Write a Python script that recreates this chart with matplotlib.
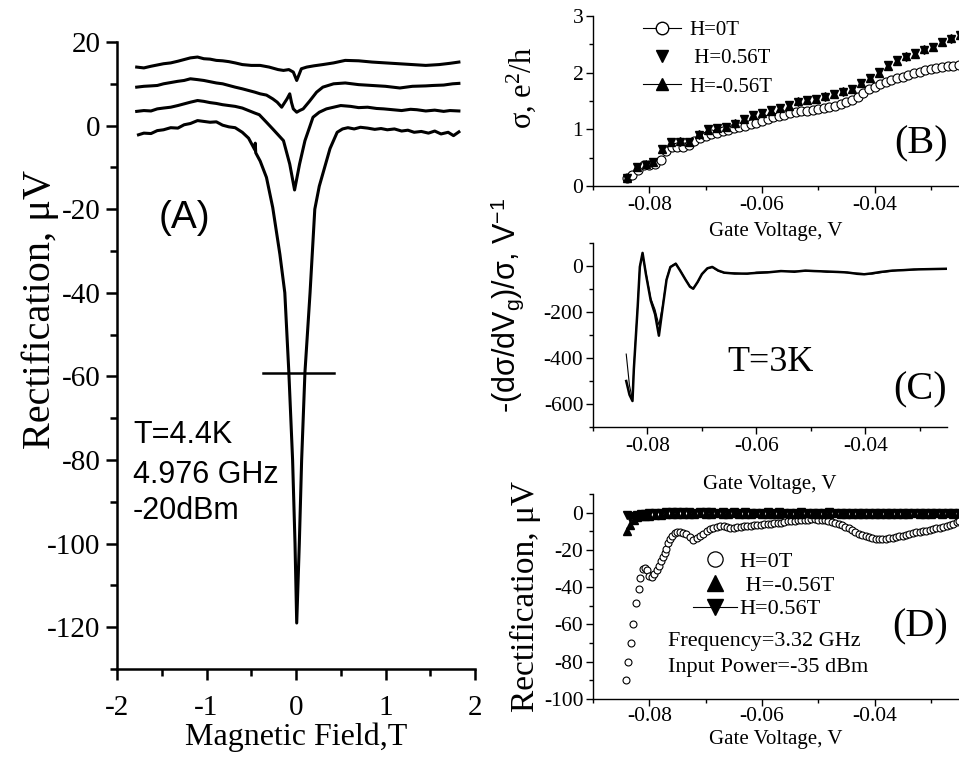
import matplotlib
matplotlib.use('Agg')
import matplotlib.pyplot as plt
from matplotlib.lines import Line2D
from matplotlib.ticker import MultipleLocator

# ---------------- data: panel A (rectification vs magnetic field) ----------------
a1_x = [-1.76, -1.70, -1.62, -1.55, -1.48, -1.40, -1.32, -1.25, -1.18, -1.10, -1.03, -0.96,
        -0.89, -0.82, -0.75, -0.68, -0.60, -0.53, -0.46, -0.455, -0.45, -0.40, -0.33, -0.26,
        -0.18, -0.125, -0.08, -0.038, -0.011, 0.008, 0.037, 0.063, 0.10, 0.157, 0.21, 0.26,
        0.32, 0.38, 0.46, 0.52, 0.58, 0.65, 0.72, 0.80, 0.88, 0.95, 1.02, 1.10, 1.18, 1.25,
        1.32, 1.40, 1.48, 1.55, 1.62, 1.70, 1.76, 1.82]
a1_y = [-2.2, -1.8, -1.9, -1.2, -1.0, -0.5, -0.6, 0.2, 0.5, 1.2, 1.0, 0.8,
        0.9, 0.1, -0.3, -0.5, -1.6, -3.0, -5.8, -4.2, -6.5, -8.5, -12.4, -19.6,
        -30.8, -40.0, -59.0, -80.0, -100.0, -119.0, -100.0, -80.0, -59.0, -40.0, -20.0, -14.5,
        -10.0, -5.5, -1.6, -0.8, -0.5, -0.8, -0.4, -0.6, -0.9, -0.7, -1.0, -0.8, -1.3, -1.1,
        -1.6, -1.4, -1.8, -1.3, -2.0, -1.6, -2.4, -1.5]

a2_x = [-1.78, -1.70, -1.62, -1.55, -1.48, -1.40, -1.32, -1.25, -1.18, -1.10, -1.03, -0.96,
        -0.89, -0.82, -0.75, -0.68, -0.60, -0.53, -0.46, -0.41, -0.33, -0.26, -0.20, -0.14,
        -0.07, -0.016, 0.04, 0.10, 0.15, 0.19, 0.26, 0.34, 0.42, 0.50, 0.61, 0.70, 0.80, 0.90,
        0.98, 1.08, 1.18, 1.28, 1.35, 1.45, 1.55, 1.65, 1.72, 1.82]
a2_y = [3.4, 3.6, 3.5, 4.0, 4.2, 4.4, 4.8, 5.2, 5.6, 6.0, 5.8, 5.5,
        5.3, 5.0, 4.8, 4.6, 4.2, 3.6, 3.0, 2.6, 0.8, -0.8, -2.2, -3.6,
        -9.2, -15.4, -9.2, -3.6, -0.5, 2.0, 3.2, 4.0, 4.4, 4.8, 4.6, 4.3, 4.4, 4.1,
        4.0, 3.8, 3.6, 3.9, 3.8, 3.5, 3.7, 3.4, 3.6, 3.5]

a3_x = [-1.78, -1.70, -1.62, -1.55, -1.48, -1.40, -1.32, -1.25, -1.18, -1.10, -1.03, -0.96,
        -0.89, -0.82, -0.75, -0.68, -0.60, -0.53, -0.46, -0.40, -0.33, -0.26, -0.21, -0.16,
        -0.13, -0.10, -0.07, -0.05, -0.03, 0.008, 0.04, 0.08, 0.15, 0.23, 0.30, 0.42, 0.55,
        0.70, 0.85, 1.00, 1.16, 1.30, 1.45, 1.53, 1.65, 1.75, 1.82]
a3_y = [9.2, 9.4, 9.5, 9.6, 10.0, 10.3, 10.6, 10.8, 11.2, 11.0, 10.8, 10.5,
        10.2, 10.0, 9.6, 9.2, 8.8, 8.4, 8.0, 7.6, 7.3, 6.4, 5.6, 4.4,
        5.4, 6.4, 7.6, 5.5, 4.0, 3.2, 3.6, 4.0, 5.8, 8.0, 9.2, 10.0, 10.2,
        9.8, 9.6, 9.4, 9.0, 9.4, 9.5, 9.6, 9.7, 10.0, 10.1]

a4_x = [-1.78, -1.70, -1.62, -1.55, -1.48, -1.40, -1.32, -1.25, -1.18, -1.10, -1.03, -0.96,
        -0.89, -0.82, -0.75, -0.68, -0.60, -0.50, -0.40, -0.30, -0.20, -0.14, -0.08, -0.03,
        0.008, 0.06, 0.12, 0.20, 0.30, 0.42, 0.55, 0.70, 0.85, 1.00, 1.15, 1.30, 1.45, 1.60,
        1.72, 1.82]
a4_y = [14.0, 13.8, 14.2, 14.5, 14.8, 15.0, 15.4, 15.8, 16.2, 16.4, 16.0, 15.9,
        15.6, 15.5, 15.3, 15.0, 14.6, 14.4, 14.4, 14.0, 13.4, 13.2, 13.4, 12.8,
        10.8, 13.6, 14.0, 14.3, 14.6, 15.0, 15.6, 15.5, 15.2, 15.0, 14.8, 14.6, 14.4, 14.6,
        14.9, 15.2]

fwhm_x = [-0.37, 0.43]
fwhm_level = -59.3

# ---------------- data: panel B (conductance vs gate voltage) ----------------
b0_x = [-0.084, -0.083, -0.082, -0.081, -0.080, -0.079, -0.078, -0.077, -0.076, -0.075,
        -0.074, -0.073, -0.072, -0.071, -0.070, -0.069, -0.068, -0.067, -0.066, -0.065,
        -0.064, -0.063, -0.062, -0.061, -0.060, -0.059, -0.058, -0.057, -0.056, -0.055,
        -0.054, -0.053, -0.052, -0.051, -0.050, -0.049, -0.048, -0.047, -0.046, -0.045,
        -0.044, -0.043, -0.042, -0.041, -0.040, -0.039, -0.038, -0.037, -0.036, -0.035,
        -0.034, -0.033, -0.032, -0.031, -0.030, -0.029, -0.028, -0.027, -0.026, -0.025]
b0_y = [0.14, 0.20, 0.28, 0.37, 0.37, 0.39, 0.46, 0.62, 0.69, 0.69,
        0.69, 0.72, 0.80, 0.85, 0.89, 0.92, 0.94, 0.97, 0.99, 1.02,
        1.04, 1.06, 1.09, 1.12, 1.15, 1.18, 1.21, 1.24, 1.26, 1.29,
        1.31, 1.32, 1.33, 1.35, 1.36, 1.37, 1.39, 1.42, 1.45, 1.48,
        1.52, 1.57, 1.65, 1.71, 1.75, 1.80, 1.84, 1.87, 1.90, 1.93,
        1.96, 1.99, 2.01, 2.04, 2.06, 2.08, 2.10, 2.11, 2.12, 2.13]

b56_x = [-0.0839, -0.0821, -0.0806, -0.0794, -0.0777, -0.0761, -0.0745, -0.0729, -0.0712,
         -0.0696, -0.0680, -0.0664, -0.0648, -0.0632, -0.0616, -0.0600, -0.0584, -0.0568,
         -0.0552, -0.0536, -0.0520, -0.0504, -0.0488, -0.0472, -0.0456, -0.0440, -0.0424,
         -0.0408, -0.0392, -0.0376, -0.0360, -0.0344, -0.0328, -0.0312, -0.0296, -0.0280,
         -0.0264, -0.0248]
b56p_y = [0.135, 0.34, 0.37, 0.43, 0.66, 0.78, 0.78, 0.78, 0.90,
          1.00, 1.02, 1.05, 1.10, 1.19, 1.25, 1.28, 1.34, 1.37,
          1.43, 1.49, 1.51, 1.54, 1.57, 1.63, 1.66, 1.72, 1.81,
          1.90, 2.01, 2.13, 2.22, 2.28, 2.34, 2.40, 2.46, 2.54,
          2.60, 2.67]
b56m_y = [0.14, 0.33, 0.38, 0.42, 0.65, 0.77, 0.79, 0.77, 0.91,
          0.99, 1.03, 1.04, 1.11, 1.18, 1.26, 1.29, 1.33, 1.38,
          1.42, 1.50, 1.52, 1.53, 1.58, 1.62, 1.67, 1.71, 1.82,
          1.91, 2.00, 2.12, 2.21, 2.29, 2.33, 2.41, 2.45, 2.55,
          2.61, 2.66]

# ---------------- data: panel C (log derivative) ----------------
c_x = [-0.0839, -0.0833, -0.08275, -0.0825, -0.0818, -0.0814, -0.0809, -0.0803, -0.0794,
       -0.0786, -0.0779, -0.0772, -0.0765, -0.0758, -0.0748, -0.0740, -0.0730, -0.0722,
       -0.0716, -0.0708, -0.0700, -0.0690, -0.0681, -0.0670, -0.0659, -0.0640, -0.0617,
       -0.0600, -0.0580, -0.0555, -0.0530, -0.0510, -0.0494, -0.0470, -0.0450, -0.0433,
       -0.0415, -0.0402, -0.0388, -0.0372, -0.0350, -0.0330, -0.0311, -0.0290, -0.0270,
       -0.0250]
c_thick = [-500, -560, -587, -448, -179, -4, 57, -33, -150,
           -210, -303, -180, -60, -5, 10, -20, -60, -90,
           -99, -70, -35, -10, -4, -20, -29, -33, -33,
           -30, -28, -22, -25, -20, -22, -24, -26, -28,
           -34, -36, -32, -26, -20, -18, -15, -14, -13,
           -12]
c_thin = [-383, -520, -580, -440, -170, 0, 52, -25, -140,
          -190, -257, -170, -55, -2, 12, -18, -58, -88,
          -97, -72, -38, -12, -6, -22, -31, -30, -35,
          -27, -25, -24, -22, -23, -20, -27, -24, -30,
          -31, -33, -35, -29, -22, -16, -17, -12, -14,
          -11]

# ---------------- data: panel D (rectification vs gate voltage) ----------------
d0_x = [-0.0842, -0.0837, -0.0833, -0.0829, -0.0824, -0.0819, -0.0816, -0.0812, -0.0808,
        -0.0804, -0.0800, -0.0796, -0.0791, -0.0786, -0.0782, -0.0779, -0.0776, -0.0773,
        -0.0770, -0.0767, -0.0764, -0.0760, -0.0755, -0.0750, -0.0746, -0.0740, -0.0734,
        -0.0728, -0.0722, -0.0716, -0.0710, -0.0704, -0.0698, -0.0692, -0.0686, -0.0680,
        -0.0674, -0.0668, -0.0662, -0.0656, -0.0650, -0.0644, -0.0638, -0.0632, -0.0626,
        -0.0620, -0.0614, -0.0608, -0.0602, -0.0596, -0.0590, -0.0584, -0.0578, -0.0572,
        -0.0566, -0.0560, -0.0554, -0.0548, -0.0542, -0.0536, -0.0530, -0.0524, -0.0518,
        -0.0512, -0.0506, -0.0500, -0.0494, -0.0488, -0.0482, -0.0476, -0.0470, -0.0464,
        -0.0458, -0.0452, -0.0446, -0.0440, -0.0434, -0.0428, -0.0422, -0.0416, -0.0410,
        -0.0404, -0.0398, -0.0392, -0.0386, -0.0380, -0.0374, -0.0368, -0.0362, -0.0356,
        -0.0350, -0.0344, -0.0338, -0.0332, -0.0326, -0.0320, -0.0314, -0.0308, -0.0302,
        -0.0296, -0.0290, -0.0284, -0.0278, -0.0272, -0.0266, -0.0260, -0.0254, -0.0250]
d0_y = [-89.6, -80.3, -69.9, -60.0, -48.7, -41.2, -35.0, -30.5, -29.5,
        -31.0, -34.0, -34.5, -33.0, -31.0, -28.7, -26.0, -24.0, -21.5,
        -19.4, -16.5, -14.3, -12.3, -10.8, -10.2, -10.4, -11.0, -11.6,
        -13.0, -14.7, -13.8, -12.5, -11.2, -10.0, -9.0, -8.2, -7.6,
        -7.2, -7.4, -7.8, -8.0, -8.0, -7.8, -7.6, -7.4, -7.2,
        -7.0, -6.8, -6.6, -6.4, -6.3, -6.1, -5.9, -5.7, -5.5,
        -5.4, -5.0, -4.7, -4.5, -4.3, -4.1, -3.9, -3.8, -3.7,
        -3.6, -3.6, -3.7, -3.8, -4.0, -4.3, -4.8, -5.5, -6.3,
        -6.9, -7.5, -8.4, -9.4, -10.4, -11.3, -12.0, -12.7, -13.3,
        -13.8, -14.1, -14.3, -14.2, -14.0, -13.7, -13.4, -13.0, -12.6,
        -12.3, -11.9, -11.6, -11.1, -10.6, -10.4, -10.1, -9.8, -9.3,
        -8.8, -8.5, -8.2, -7.9, -7.4, -6.8, -6.0, -5.0, -4.5]

d56_x = [-0.0839, -0.0834, -0.0828, -0.0822, -0.0815, -0.0808, -0.0800, -0.0790, -0.0780,
         -0.0770, -0.0760, -0.0750, -0.0740, -0.0730, -0.0720, -0.0710, -0.0700, -0.0690,
         -0.0680, -0.0670, -0.0660, -0.0650, -0.0640, -0.0630, -0.0620, -0.0610, -0.0600,
         -0.0590, -0.0580, -0.0570, -0.0560, -0.0550, -0.0540, -0.0530, -0.0520, -0.0510,
         -0.0500, -0.0490, -0.0480, -0.0470, -0.0460, -0.0450, -0.0440, -0.0430, -0.0420,
         -0.0410, -0.0400, -0.0390, -0.0380, -0.0370, -0.0360, -0.0350, -0.0340, -0.0330,
         -0.0320, -0.0310, -0.0300, -0.0290, -0.0280, -0.0270, -0.0260, -0.0250]
d56m_y = [-10.0, -6.5, -4.0, -2.5, -2.0, -1.6, -1.8, -1.4, -1.2,
          -0.9, -0.8, -0.6, -0.7, -0.5, -0.6, -0.4, -0.5, -0.5,
          -0.4, -0.6, -0.5, -0.4, -0.5, -0.6, -0.5, -0.4, -0.5,
          -0.6, -0.5, -0.5, -0.4, -0.5, -0.6, -0.5, -0.4, -0.5,
          -0.5, -0.6, -0.5, -0.4, -0.5, -0.6, -0.7, -0.6, -0.5,
          -0.6, -0.7, -0.6, -0.5, -0.6, -0.5, -0.6, -0.5, -0.4,
          -0.5, -0.6, -0.5, -0.4, -0.5, -0.4, -0.5, -0.4]
d56p_y = [-1.5, -3.0, -2.0, -1.2, -0.8, -0.6, -0.3, -0.2, 0.0,
          0.1, 0.2, 0.1, 0.2, 0.1, 0.0, 0.1, 0.2, 0.1,
          0.0, 0.1, 0.0, 0.1, 0.0, 0.1, 0.0, -0.1, 0.0,
          0.1, 0.0, 0.1, 0.0, -0.1, 0.0, 0.1, 0.0, 0.0,
          -0.1, 0.0, 0.1, 0.0, -0.1, -0.2, -0.1, -0.2, -0.2,
          -0.3, -0.2, -0.3, -0.2, -0.2, -0.1, -0.2, -0.1, -0.1,
          0.0, -0.1, 0.0, 0.0, -0.1, 0.0, 0.0, 0.0]

# ---------------- figure ----------------
plt.rcParams['font.family'] = ['Liberation Serif', 'DejaVu Serif']
plt.rcParams['axes.unicode_minus'] = False
plt.rcParams['mathtext.fontset'] = 'custom'
plt.rcParams['mathtext.rm'] = 'Liberation Serif'
plt.rcParams['mathtext.it'] = 'Liberation Serif:italic'

W, H = 959, 761
fig = plt.figure(figsize=(W / 100, H / 100), dpi=100)


def px_axes(left, top, right, bottom):
    return fig.add_axes([left / W, (H - bottom) / H, (right - left) / W, (bottom - top) / H])


def style(ax, lw, major, minor, size):
    ax.spines['top'].set_visible(False)
    ax.spines['right'].set_visible(False)
    ax.spines['left'].set_linewidth(lw)
    ax.spines['bottom'].set_linewidth(lw)
    ax.tick_params(which='major', direction='out', length=major, width=lw, labelsize=size, pad=2)
    ax.tick_params(which='minor', direction='out', length=minor, width=lw)


sans = ['Liberation Sans', 'DejaVu Sans']

# panel A
axA = px_axes(117, 42, 475, 669)
for xs, ys in [(a1_x, a1_y), (a2_x, a2_y), (a3_x, a3_y), (a4_x, a4_y)]:
    axA.plot(xs, ys, color='black', lw=2.2)
axA.plot(fwhm_x, [fwhm_level, fwhm_level], color='black', lw=1.8)
axA.set_xlim(-2, 2)
axA.set_ylim(-130, 20)
axA.xaxis.set_major_locator(MultipleLocator(1))
axA.xaxis.set_minor_locator(MultipleLocator(0.5))
axA.yaxis.set_major_locator(MultipleLocator(20))
axA.yaxis.set_minor_locator(MultipleLocator(10))
style(axA, 1.8, 8, 5, 21)
axA.tick_params(axis='x', which='major', pad=11)
axA.tick_params(axis='y', which='major', pad=4)
axA.set_xlabel('Magnetic Field,T', fontsize=23, labelpad=1)
axA.set_ylabel('Rectification, μV', fontsize=29)
axA.yaxis.set_label_coords(-0.163, 0.574)
axA.text(-1.53, -22, '(A)', fontsize=28, family=sans, va='center', ha='left')
axA.text(-1.82, -73.9, 'T=4.4K', fontsize=22, family=sans, va='center', ha='left')
axA.text(-1.82, -83.5, '4.976 GHz', fontsize=22, family=sans, va='center', ha='left')
axA.text(-1.82, -92.3, '-20dBm', fontsize=22, family=sans, va='center', ha='left')

# panel B
axB = px_axes(593, 16, 959, 186)
axB.plot(b0_x, b0_y, ls='none', marker='o', ms=6.5, mfc='white', mec='black', mew=0.8)
axB.plot(b56_x, b56p_y, ls='none', marker='v', ms=6, color='black')
axB.plot(b56_x, b56m_y, ls='none', marker='^', ms=6, color='black')
axB.set_xlim(-0.09, -0.025)
axB.set_ylim(0, 3)
axB.xaxis.set_minor_locator(MultipleLocator(0.01))
axB.yaxis.set_major_locator(MultipleLocator(1))
axB.yaxis.set_minor_locator(MultipleLocator(0.5))
axB.set_xticks([-0.08, -0.06, -0.04])
axB.set_xticklabels(['-0.08', '-0.06', '-0.04'])
style(axB, 1.0, 5, 3, 15.5)
axB.set_xlabel('Gate Voltage, V', fontsize=15, labelpad=5)
axB.set_ylabel('σ, e$^\\mathregular{2}$/h', fontsize=22)
axB.yaxis.set_label_coords(-0.15, 0.576)
axB.text(0.97, 0.25, '(B)', transform=axB.transAxes, fontsize=29, ha='right', va='center')
hB = [Line2D([], [], color='black', lw=0.8, marker='o', ms=9, mfc='white', mec='black'),
      Line2D([], [], color='black', ls='none', marker='v', ms=9),
      Line2D([], [], color='black', lw=0.8, marker='^', ms=9)]
axB.legend(hB, ['H=0T', ' H=0.56T', 'H=-0.56T'], loc='upper left', bbox_to_anchor=(0.137, 0.975),
           frameon=False, fontsize=15, handlelength=1.8, handletextpad=0.4, labelspacing=0.42,
           borderpad=0, borderaxespad=0)

# panel C
axC = px_axes(593, 243, 947, 427)
axC.plot(c_x, c_thick, color='black', lw=1.8)
axC.plot(c_x, c_thin, color='black', lw=0.8)
axC.set_xlim(-0.09, -0.025)
axC.set_ylim(-700, 100)
axC.set_xticks([-0.08, -0.06, -0.04])
axC.set_xticklabels(['-0.08', '-0.06', '-0.04'])
axC.xaxis.set_minor_locator(MultipleLocator(0.01))
axC.yaxis.set_major_locator(MultipleLocator(200))
axC.yaxis.set_minor_locator(MultipleLocator(100))
style(axC, 1.0, 5, 3, 15.5)
axC.set_xlabel('Gate Voltage, V', fontsize=15, labelpad=14)
axC.set_ylabel('-(dσ/dV$_\\mathregular{g}$)/σ, V$^\\mathregular{-1}$', fontsize=22, family=sans)
axC.yaxis.set_label_coords(-0.19, 0.663)
axC.text(-0.0653, -420, 'T=3K', fontsize=26, ha='left', va='center')
axC.text(1.0, 0.2, '(C)', transform=axC.transAxes, fontsize=29, ha='right', va='center')

# panel D
axD = px_axes(593, 494, 959, 699)
axD.plot(d0_x, d0_y, ls='none', marker='o', ms=5, mfc='white', mec='black', mew=0.8)
axD.plot(d56_x, d56m_y, ls='none', marker='^', ms=6, color='black')
axD.plot(d56_x, d56p_y, ls='none', marker='v', ms=6, color='black')
axD.set_xlim(-0.09, -0.025)
axD.set_ylim(-100, 10)
axD.set_xticks([-0.08, -0.06, -0.04])
axD.set_xticklabels(['-0.08', '-0.06', '-0.04'])
axD.xaxis.set_minor_locator(MultipleLocator(0.01))
axD.yaxis.set_major_locator(MultipleLocator(20))
axD.yaxis.set_minor_locator(MultipleLocator(10))
style(axD, 1.0, 5, 3, 15.5)
axD.tick_params(axis='x', which='major', pad=0.5)
axD.set_xlabel('Gate Voltage, V', fontsize=15, labelpad=3)
axD.set_ylabel('Rectification, μV', fontsize=24, labelpad=2)
hD = [Line2D([], [], color='black', ls='none', marker='o', ms=11, mfc='white', mec='black', mew=0.9),
      Line2D([], [], color='black', ls='none', marker='^', ms=12),
      Line2D([], [], color='black', lw=0.8, marker='v', ms=12)]
axD.legend(hD, ['H=0T', ' H=-0.56T', 'H=0.56T'], loc='upper left', bbox_to_anchor=(0.273, 0.72),
           frameon=False, fontsize=16, handlelength=2.0, handletextpad=0.1, labelspacing=0.14,
           borderpad=0, borderaxespad=0)
axD.text(-0.0766, -69.4, 'Frequency=3.32 GHz', fontsize=16, ha='left', va='center')
axD.text(-0.0766, -83.3, 'Input Power=-35 dBm', fontsize=16, ha='left', va='center')
axD.text(0.97, 0.35, '(D)', transform=axD.transAxes, fontsize=29, ha='right', va='center')

fig.savefig('out.png', dpi=100)
